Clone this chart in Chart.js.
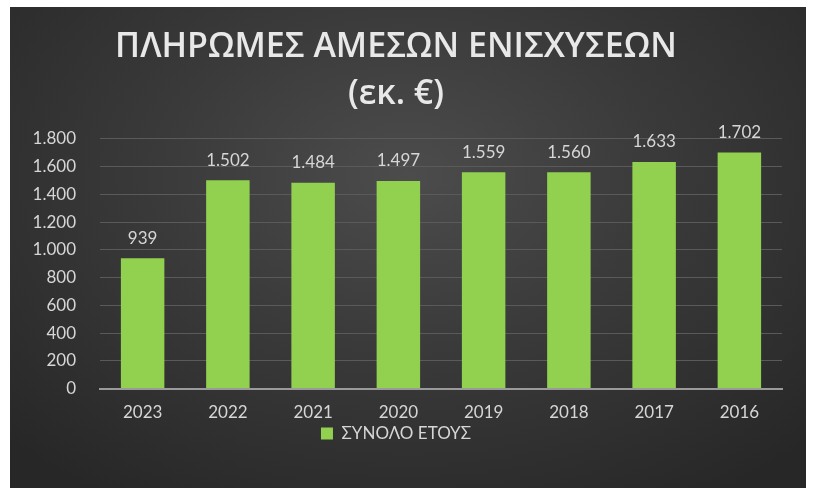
<!DOCTYPE html>
<html lang="el">
<head>
  <meta charset="UTF-8">
  <title>Πληρωμές άμεσων ενισχύσεων</title>
  <script src="https://cdn.jsdelivr.net/npm/chart.js"></script>
  <style>
    html, body { margin: 0; padding: 0; background: #ffffff; }
    #wrap {
      position: absolute; left: 10px; top: 7px; width: 796px; height: 481px;
      background: radial-gradient(ellipse 70% 80% at 50% 35%, #4c4c4c 0%, #3a3a3a 45%, #272727 100%);
    }
  </style>
</head>
<body>
  <div id="wrap"><canvas id="payChart" width="796" height="481"></canvas></div>
  <script>
    // Δεδομένα
    const years = ['2023', '2022', '2021', '2020', '2019', '2018', '2017', '2016'];
    const totals = [939, 1502, 1484, 1497, 1559, 1560, 1633, 1702];
    const titleLines = ['ΠΛΗΡΩΜΕΣ ΑΜΕΣΩΝ ΕΝΙΣΧΥΣΕΩΝ', '(εκ. €)'];
    const seriesName = 'ΣΥΝΟΛΟ ΕΤΟΥΣ';

    // 1800 -> "1.800"
    function fmt(v) {
      return String(v).replace(/\B(?=(\d{3})+(?!\d))/g, '.');
    }

    // ετικέτες τιμών πάνω από τις μπάρες
    const valueLabels = {
      id: 'valueLabels',
      afterDatasetsDraw(chart) {
        const ctx = chart.ctx;
        ctx.save();
        ctx.font = '17px Lato';
        ctx.fillStyle = '#d6d6d6';
        ctx.textAlign = 'center';
        ctx.textBaseline = 'middle';
        chart.getDatasetMeta(0).data.forEach((bar, i) => {
          ctx.fillText(fmt(totals[i]), bar.x, bar.y - 20);
        });
        ctx.restore();
      }
    };

    new Chart(document.getElementById('payChart'), {
      type: 'bar',
      data: {
        labels: years,
        datasets: [{
          label: seriesName,
          data: totals,
          backgroundColor: '#92d050',
          categoryPercentage: 1,
          barPercentage: 0.51
        }]
      },
      options: {
        responsive: false,
        animation: false,
        layout: { padding: { left: 0, right: 24, top: 0, bottom: 36 } },
        plugins: {
          title: {
            display: true,
            text: titleLines,
            color: '#e8e8e8',
            font: { family: 'Open Sans', size: 34, weight: '600', lineHeight: 1.38 },
            padding: { top: 17, bottom: 21 }
          },
          legend: {
            display: true,
            position: 'bottom',
            labels: {
              color: '#d6d6d6',
              font: { family: 'Lato', size: 17 },
              boxWidth: 12,
              boxHeight: 12,
              padding: 0
            }
          },
          tooltip: { enabled: false }
        },
        scales: {
          x: {
            afterFit(scale) { scale.height -= 12; },
            grid: { display: false, drawTicks: false },
            border: { color: '#9a9a9a', width: 2 },
            ticks: { color: '#d6d6d6', font: { family: 'Lato', size: 17 }, padding: 14 }
          },
          y: {
            min: 0,
            max: 1800,
            afterFit(scale) { scale.width = 90; },
            grid: { color: '#5a5a5a', lineWidth: 1, drawTicks: false },
            border: { display: false },
            ticks: {
              stepSize: 200,
              color: '#d6d6d6',
              font: { family: 'Lato', size: 17 },
              padding: 24,
              callback: v => fmt(v)
            }
          }
        }
      },
      plugins: [valueLabels]
    });
  </script>
</body>
</html>
